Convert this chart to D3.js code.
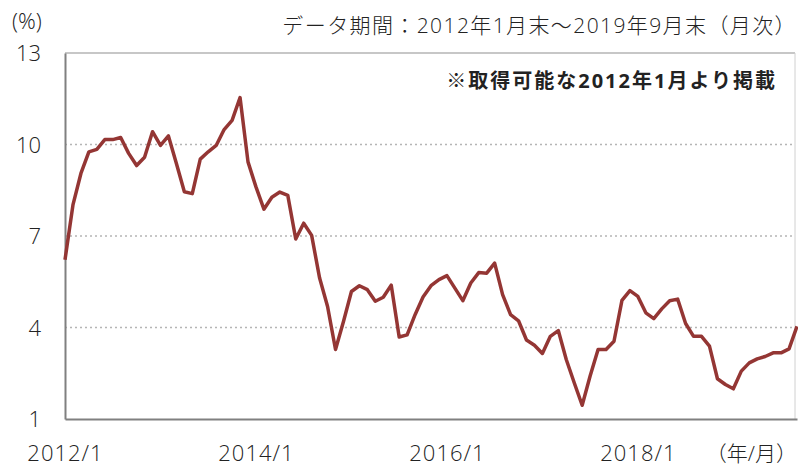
<!DOCTYPE html>
<html>
<head>
<meta charset="utf-8">
<script src="https://cdn.jsdelivr.net/npm/d3@7"></script>
<style>
  body { margin: 0; background: #fff; }
  text { font-family: "Open Sans", "Noto Sans CJK JP", sans-serif; font-weight: 300; fill: #222; }
</style>
</head>
<body>
<script>
// month-end values, 2012/1 .. 2019/9 (%)
var values = [
  6.22, 8.02, 9.05, 9.76, 9.84, 10.16, 10.16, 10.23, 9.71, 9.31, 9.58, 10.42,
  9.97, 10.28, 9.38, 8.45, 8.39, 9.52, 9.76, 9.97, 10.49, 10.79, 11.54, 9.43,
  8.61, 7.88, 8.27, 8.44, 8.33, 6.90, 7.42, 7.02, 5.62, 4.69, 3.28, 4.20,
  5.18, 5.37, 5.24, 4.86, 4.99, 5.39, 3.69, 3.76, 4.42, 5.00, 5.37, 5.57,
  5.70, 5.29, 4.88, 5.46, 5.80, 5.78, 6.11, 5.08, 4.42, 4.22, 3.59, 3.42,
  3.15, 3.71, 3.90, 2.95, 2.19, 1.45, 2.41, 3.28, 3.28, 3.55, 4.89, 5.21,
  5.02, 4.48, 4.29, 4.61, 4.88, 4.93, 4.13, 3.71, 3.71, 3.39, 2.32, 2.13,
  1.99, 2.57, 2.84, 2.97, 3.05, 3.17, 3.17, 3.30, 4.04
];
var yTicks = [1, 4, 7, 10, 13];
var xTickIdx = [0, 24, 48, 72];
var xTickLabels = ["2012/1", "2014/1", "2016/1", "2018/1"];

var w = 798, h = 467;
var plotL = 65, plotR = 797, plotT = 53, plotB = 419;

var svg = d3.select("body").append("svg")
    .attr("width", w)
    .attr("height", h);

var x = d3.scaleLinear()
    .domain([0, values.length - 1])
    .range([plotL, plotR]);

var y = d3.scaleLinear()
    .domain([1, 13])
    .range([plotB, plotT]);

// dotted gridlines
svg.append("g")
    .selectAll("line")
    .data(yTicks.filter(function(d){ return d > 1; }))
    .enter().append("line")
    .attr("x1", plotL).attr("x2", plotR - 2)
    .attr("y1", function(d){ return y(d); })
    .attr("y2", function(d){ return y(d); })
    .attr("stroke", "#b5b5b5")
    .attr("stroke-width", 1.5)
    .attr("stroke-dasharray", function(d){ return d === 13 ? null : "2,3"; });

// right border of plot
svg.append("line")
    .attr("x1", plotR - 2).attr("x2", plotR - 2)
    .attr("y1", plotT).attr("y2", plotB)
    .attr("stroke", "#d0d0d0").attr("stroke-width", 1);

// axes
var yAxis = d3.axisLeft(y).tickValues(yTicks).tickSize(0).tickPadding(24);
var gy = svg.append("g")
    .attr("transform", "translate(" + plotL + ",0)")
    .call(yAxis);
gy.select(".domain").attr("stroke", "#808080").attr("stroke-width", 2);
gy.selectAll("text")
    .attr("font-family", null)
    .style("font-size", "22px")
    .attr("dy", "0.35em");

var xAxis = d3.axisBottom(x)
    .tickValues(xTickIdx)
    .tickFormat(function(d, i){ return xTickLabels[i]; })
    .tickSize(0)
    .tickPadding(26);
var gx = svg.append("g")
    .attr("transform", "translate(0," + plotB + ")")
    .call(xAxis);
gx.select(".domain").attr("stroke", "#808080").attr("stroke-width", 2);
gx.selectAll("text")
    .attr("font-family", null)
    .style("font-size", "22px")
    .style("letter-spacing", "1px");
svg.selectAll(".tick text").style("fill", "#222");

// line
var line = d3.line()
    .x(function(d, i){ return x(i); })
    .y(function(d){ return y(d); });

svg.append("path")
    .datum(values)
    .attr("fill", "none")
    .attr("stroke", "#943634")
    .attr("stroke-width", 3.5)
    .attr("stroke-linejoin", "round")
    .attr("d", line);

// texts
svg.append("text")
    .attr("x", 12).attr("y", 29)
    .style("font-size", "22px")
    .text("(%)");

svg.append("text")
    .attr("x", 797).attr("y", 33)
    .attr("text-anchor", "end")
    .style("font-size", "21px")
    .style("letter-spacing", "1.4px")
    .text("データ期間：2012年1月末～2019年9月末（月次）");

svg.append("text")
    .attr("x", 777).attr("y", 88)
    .attr("text-anchor", "end")
    .style("font-size", "20px")
    .style("font-weight", "bold")
    .style("letter-spacing", "2px")
    .text("※取得可能な2012年1月より掲載");

svg.append("text")
    .attr("x", 797).attr("y", 461)
    .attr("text-anchor", "end")
    .style("font-size", "21px")
    .text("（年/月）");
</script>
</body>
</html>
